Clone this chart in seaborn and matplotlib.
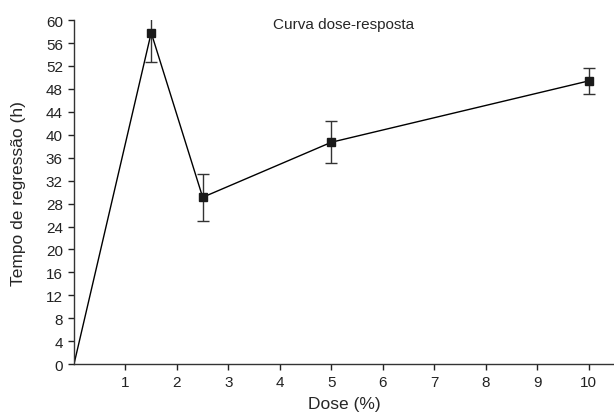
import pandas as pd
import matplotlib.pyplot as plt
import seaborn as sns

# dose-response data
dose = [0, 1.5, 2.5, 5, 10]
tempo = [0, 57.8, 29.1, 38.7, 49.4]
erro = [0, 5.1, 4.1, 3.7, 2.2]

df = pd.DataFrame({'Dose': dose, 'Tempo': tempo, 'Erro': erro})

sns.set_style('ticks')
plt.rcParams['font.family'] = ['Liberation Sans', 'DejaVu Sans']

fig = plt.figure(figsize=(6.14, 4.14), dpi=100)
ax = fig.add_axes([0.1205, 0.118, 0.8795, 0.831])

sns.lineplot(data=df, x='Dose', y='Tempo', color='black', linewidth=1, ax=ax)
pts = df[df['Dose'] > 0]
ax.errorbar(pts['Dose'], pts['Tempo'], yerr=pts['Erro'], fmt='s', color='#1a1a1a',
            markersize=6, ecolor='#333333', elinewidth=1, capsize=4, capthick=1)

ax.set_xlim(0, 10.49)
ax.set_ylim(0, 60)
ax.set_xticks(range(1, 11))
ax.set_yticks(range(0, 61, 4))
ax.tick_params(labelsize=11, colors='#222222', length=4, width=1, pad=4)
sns.despine(ax=ax)
for s in ['left', 'bottom']:
    ax.spines[s].set_color('#333333')
    ax.spines[s].set_linewidth(1)

ax.set_xlabel('Dose (%)', fontsize=12.5, labelpad=5)
ax.set_ylabel('Tempo de regressão (h)', fontsize=12.5, labelpad=14)
ax.text(0.5, 0.99, 'Curva dose-resposta', transform=ax.transAxes,
        ha='center', va='center', fontsize=11)

plt.savefig('out.png', dpi=100)
